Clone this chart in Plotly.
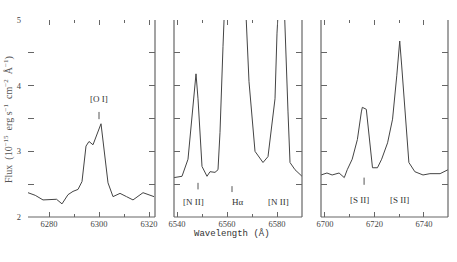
import plotly.graph_objects as go

# Panel 1: [O I] 6300 region
wl_oi = [6271.6, 6274.5, 6277.6, 6280.4, 6283.0, 6285.2, 6287.6, 6289.6, 6291.6, 6293.2,
         6294.8, 6296.0, 6297.6, 6300.8, 6303.6, 6305.6, 6308.4, 6311.0, 6313.6, 6317.6, 6322.0]
fx_oi = [2.37, 2.33, 2.26, 2.27, 2.27, 2.20, 2.34, 2.39, 2.42, 2.54,
         3.08, 3.15, 3.10, 3.42, 2.52, 2.31, 2.36, 2.31, 2.26, 2.37, 2.31]

# Panel 2: [N II] + H-alpha region (peaks run off the top)
wl_ha = [6538.8, 6542.0, 6544.4, 6546.4, 6547.6, 6548.4, 6550.0, 6552.0, 6553.2, 6555.2,
         6556.4, 6557.2, 6558.4, 6563.0, 6568.8, 6571.2, 6574.4, 6576.4, 6579.2, 6580.0,
         6582.0, 6584.4, 6585.2, 6587.2, 6590.0]
fx_ha = [2.60, 2.62, 2.88, 3.65, 4.18, 3.80, 2.77, 2.62, 2.69, 2.68,
         2.72, 3.29, 4.60, 9.00, 4.06, 3.00, 2.83, 2.92, 3.80, 4.80,
         6.20, 3.60, 2.83, 2.72, 2.62]

# Panel 3: [S II] doublet region
wl_sii = [6698.4, 6700.8, 6702.9, 6705.7, 6707.8, 6709.0, 6711.0, 6713.1, 6714.7, 6715.1,
          6716.7, 6718.0, 6719.2, 6721.2, 6722.9, 6725.3, 6727.3, 6729.0, 6730.2, 6731.0,
          6733.1, 6733.9, 6736.3, 6739.6, 6742.4, 6746.5, 6749.7]
fx_sii = [2.64, 2.67, 2.64, 2.67, 2.60, 2.72, 2.88, 3.18, 3.60, 3.67,
          3.64, 3.18, 2.75, 2.75, 2.88, 3.13, 3.49, 4.15, 4.68, 4.30,
          3.18, 2.83, 2.69, 2.64, 2.66, 2.66, 2.72]

x_ranges = [[6271.6, 6322.4], [6538.8, 6590.0], [6698.4, 6749.7]]
x_tick0 = [6280, 6540, 6700]
y_range = [2, 5]

# line identifications: (panel, text, label x, label y)
labels = [(1, "[O I]", 6300.0, 3.80), (2, "[N II]", 6546.4, 2.23), (2, "Hα", 6564.4, 2.23),
          (2, "[N II]", 6580.4, 2.23), (3, "[S II]", 6714.1, 2.26), (3, "[S II]", 6730.3, 2.26)]
# id ticks: (panel, wavelength, y0, y1)
id_ticks = [(1, 6300.0, 3.49, 3.60), (2, 6548.4, 2.42, 2.52), (2, 6562.0, 2.38, 2.47),
            (3, 6715.8, 2.49, 2.60)]

W, H = 457, 262
dom_x = [[28 / W, 155 / W], [174 / W, 302 / W], [321 / W, 448 / W]]
dom_y = [1 - 217 / H, 1 - 20 / H]

ink = "#444444"
axc = "#666666"
tfont = dict(family="Liberation Serif", size=8.5, color="#444")

fig = go.Figure()
for i, (wl, fx) in enumerate([(wl_oi, fx_oi), (wl_ha, fx_ha), (wl_sii, fx_sii)]):
    n = "" if i == 0 else str(i + 1)
    fig.add_trace(go.Scatter(x=wl, y=fx, mode="lines", xaxis="x" + n, yaxis="y" + n,
                             line=dict(color=ink, width=1), showlegend=False,
                             hoverinfo="skip"))

layout = dict(width=W, height=H, margin=dict(l=0, r=0, t=0, b=0, pad=0, autoexpand=False),
              paper_bgcolor="white", plot_bgcolor="white", showlegend=False)
shapes = []
for i in range(3):
    n = "" if i == 0 else str(i + 1)
    layout["xaxis" + n] = dict(domain=dom_x[i], range=x_ranges[i], anchor="y" + n,
                               tickmode="linear", tick0=x_tick0[i], dtick=20,
                               ticks="inside", ticklen=5, tickcolor=axc, tickwidth=1,
                               mirror="ticks", showline=False, showgrid=False, zeroline=False,
                               tickfont=tfont, ticklabelstandoff=0, automargin=False,
                               minor=dict(dtick=10, tick0=x_tick0[i], ticks="inside",
                                          ticklen=3, tickcolor=axc))
    layout["yaxis" + n] = dict(domain=dom_y, range=y_range, anchor="x" + n,
                               tickmode="linear", tick0=2, dtick=1,
                               ticks="inside", ticklen=6, tickcolor=axc, tickwidth=1,
                               mirror="ticks", showline=False, showgrid=False, zeroline=False,
                               showticklabels=(i == 0), tickfont=tfont,
                               ticklabelstandoff=6, automargin=False,
                               minor=dict(dtick=0.5, ticks="inside", ticklen=6,
                                          tickcolor=axc))
    xr, yr = "x" + n + " domain", "y" + n + " domain"
    sides = [(0, 0, 1, 0), (1, 0, 1, 1)]
    if i > 0:
        sides.append((0, 0, 0, 1))
    for x0, y0, x1, y1 in sides:
        shapes.append(dict(type="line", xref=xr, yref=yr, x0=x0, y0=y0, x1=x1, y1=y1,
                           line=dict(color=axc, width=1.2)))

for p, w, y0, y1 in id_ticks:
    n = "" if p == 1 else str(p)
    shapes.append(dict(type="line", xref="x" + n, yref="y" + n, x0=w, x1=w, y0=y0, y1=y1,
                       line=dict(color="#555", width=1)))

annotations = []
for p, t, x, y in labels:
    n = "" if p == 1 else str(p)
    annotations.append(dict(text=t, x=x, y=y, xref="x" + n, yref="y" + n, showarrow=False,
                            font=dict(family="Liberation Serif", size=9, color="#333")))
annotations.append(dict(text="Flux  (10<sup>−15</sup>  erg s<sup>−1</sup>  cm<sup>−2</sup>  Å<sup>−1</sup>)",
                        x=8 / W, y=1 - 120 / H, xref="paper", yref="paper", showarrow=False,
                        xanchor="center", yanchor="middle",
                        textangle=-90, font=dict(family="Liberation Serif", size=10, color="#555")))
annotations.append(dict(text="Wavelength (Å)", x=232 / W, y=1 - 233 / H, xref="paper",
                        yref="paper", showarrow=False, xanchor="center", yanchor="middle",
                        font=dict(family="Liberation Mono", size=9, color="#333")))

layout["shapes"] = shapes
layout["annotations"] = annotations
fig.update_layout(**layout)
fig.write_html("out.html", config={"displayModeBar": False, "staticPlot": True},
               post_script="document.body.style.margin='0';document.body.style.overflow='hidden';")
